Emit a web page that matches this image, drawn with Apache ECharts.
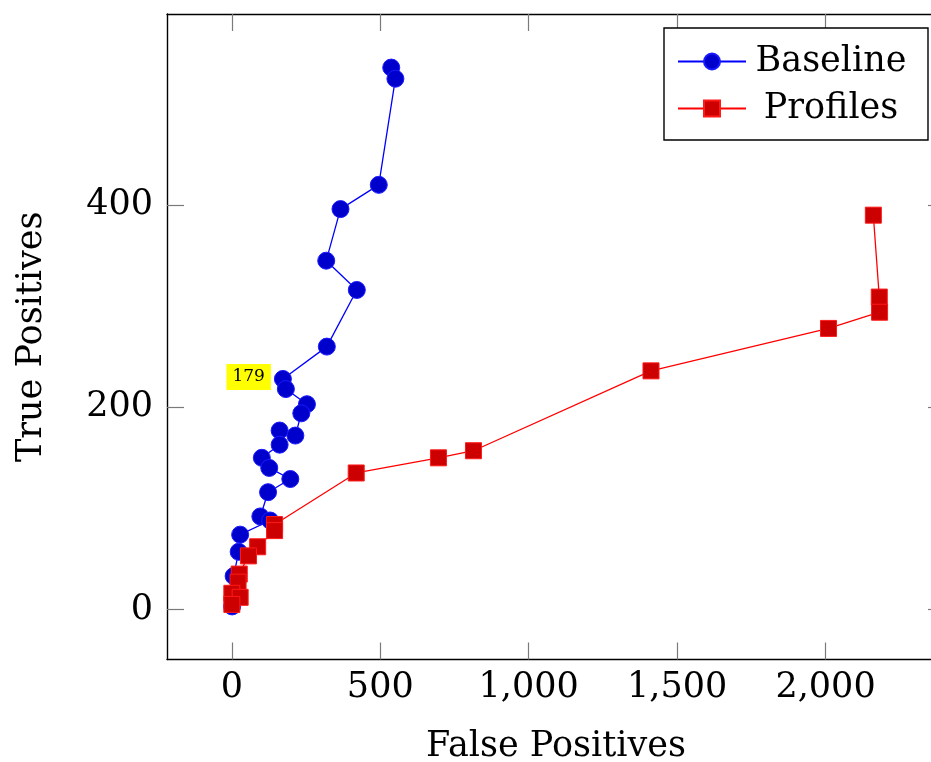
<!DOCTYPE html>
<html>
<head>
<meta charset="utf-8">
<script src="https://cdn.jsdelivr.net/npm/echarts@6/dist/echarts.min.js"></script>
<style>html,body{margin:0;padding:0;background:#fff}#c{width:931px;height:762px}</style>
</head>
<body>
<div id="c"></div>
<script>
// Baseline (blue circles): false positives, true positives
var baselineFP = [537, 551, 495, 366, 318, 421, 320, 172, 182, 253, 234, 214, 161, 161, 101, 126, 197, 122, 96, 129, 28, 23, 6, 1];
var baselineTP = [536, 525, 420, 396, 345, 316, 260, 228, 218, 203, 194, 172, 177, 163, 150, 140, 129, 116, 92, 88, 74, 57, 33, 3];
// Profiles (red squares)
var profilesFP = [2161, 2181, 2182, 2010, 1412, 814, 696, 419, 144, 144, 87, 56, 25, 21, 0, 28, 0];
var profilesTP = [390, 309, 294, 278, 236, 157, 150, 135, 84, 78, 62, 53, 35, 27, 16, 12, 5];
var labelIndex = 7;      // point annotated with "179"
var labelText = '179';
var xTicks = [0, 500, 1000, 1500, 2000];
var yTicks = [0, 200, 400];

var FONT = "'DejaVu Serif', serif";

function pairs(xs, ys) {
  var out = [];
  for (var i = 0; i < xs.length; i++) out.push([xs[i], ys[i]]);
  return out;
}
var baseData = pairs(baselineFP, baselineTP).map(function (p, i) {
  if (i !== labelIndex) return p;
  return {
    value: p,
    label: {
      show: true, position: 'left', distance: 3, formatter: labelText,
      backgroundColor: '#ffff00', padding: [5, 6, 4, 6],
      fontFamily: FONT, fontSize: 17, color: '#000', offset: [0, -2]
    }
  };
});

var chart = echarts.init(document.getElementById('c'), null, {renderer: 'canvas'});
var fmt = function (v) { return Number(v).toLocaleString('en-US'); };
function ticks(vals) {
  return {show: true, inside: true, length: 17, customValues: vals, lineStyle: {color: '#7a7a7a', width: 1.2}};
}
function frameLine() {
  return {show: true, onZero: false, lineStyle: {color: '#000', width: 1.4}};
}

chart.setOption({
  animation: false,
  backgroundColor: '#fff',
  grid: {left: 167, top: 14, width: 778, height: 645.5, outerBoundsMode: 'none', containLabel: false, show: false},
  legend: {
    left: 664, top: 28, orient: 'vertical',
    padding: [16, 17, 14, 13],
    itemWidth: 68, itemHeight: 20, itemGap: 12,
    borderColor: '#000', borderWidth: 1.4, backgroundColor: '#fff',
    formatter: '{a|{name}}',
    textStyle: {
      fontFamily: FONT, fontSize: 35, color: '#000',
      rich: {a: {fontFamily: FONT, fontSize: 35, width: 160, align: 'center', lineHeight: 40}}
    },
    data: ['Baseline', 'Profiles']
  },
  xAxis: [{
    type: 'value', min: -218.4, max: 2402.4, position: 'bottom',
    name: 'False Positives', nameLocation: 'middle', nameGap: 70,
    nameTextStyle: {fontFamily: FONT, fontSize: 35, color: '#000'},
    axisLine: frameLine(),
    axisTick: ticks(xTicks),
    axisLabel: {customValues: xTicks, formatter: fmt, fontFamily: FONT, fontSize: 35, color: '#000', margin: 11},
    splitLine: {show: false}
  }, {
    type: 'value', min: -218.4, max: 2402.4, position: 'top',
    axisLine: frameLine(),
    axisTick: ticks(xTicks),
    axisLabel: {show: false},
    splitLine: {show: false}
  }],
  yAxis: [{
    type: 'value', min: -49.5, max: 589, position: 'left',
    name: 'True Positives', nameLocation: 'middle', nameGap: 118,
    nameTextStyle: {fontFamily: FONT, fontSize: 35, color: '#000'},
    axisLine: frameLine(),
    axisTick: ticks(yTicks),
    axisLabel: {customValues: yTicks, formatter: fmt, fontFamily: FONT, fontSize: 35, color: '#000', margin: 14},
    splitLine: {show: false}
  }, {
    type: 'value', min: -49.5, max: 589, position: 'right',
    axisLine: frameLine(),
    axisTick: ticks(yTicks),
    axisLabel: {show: false},
    splitLine: {show: false}
  }],
  series: [{
    name: 'Baseline', type: 'line', data: baseData,
    symbol: 'circle', symbolSize: 17,
    lineStyle: {color: '#0000ff', width: 1.3},
    itemStyle: {color: '#0000cc', borderColor: '#1a1aff', borderWidth: 1},
    z: 2
  }, {
    name: 'Profiles', type: 'line', data: pairs(profilesFP, profilesTP),
    symbol: 'rect', symbolSize: 16,
    lineStyle: {color: '#ff0000', width: 1.3},
    itemStyle: {color: '#cc0000', borderColor: '#ff1a1a', borderWidth: 1},
    z: 3
  }]
});
</script>
</body>
</html>
